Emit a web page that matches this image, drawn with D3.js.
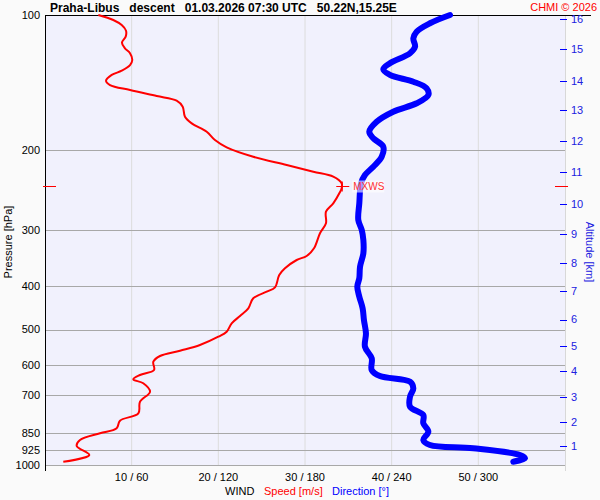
<!DOCTYPE html>
<html>
<head>
<meta charset="utf-8">
<script src="https://cdn.jsdelivr.net/npm/d3@7"></script>
<style>
  body { margin: 0; background: #fafafa; }
  svg { display: block; font-family: "Liberation Sans", Arial, sans-serif; }
</style>
</head>
<body>
<div id="chart"></div>
<script>
// wind speed profile: pressure [hPa] / speed [m/s]
const speedP = [100, 102.6, 105.3, 108.4, 111.7, 115.2, 118.6, 121.6, 125.9, 129.2, 133.0, 135.9, 140.0, 143.1,
  146.8, 151.4, 155.0, 159.9, 168.3, 174.1, 181.7, 189.6, 196.8, 206.5, 215.4, 223.0, 228.7, 236.6, 242.7,
  247.4, 262.1, 273.6, 290.3, 305.5, 329.9, 343.2, 350.3, 365.5, 378.3, 402.9, 412.0, 426.2, 448.6, 466.6,
  484.3, 505.6, 518.7, 541.2, 557.2, 572.5, 589.5, 615.1, 631.0, 645.0, 658.3, 687.2, 723.4, 767.6, 797.2,
  828.8, 850.3, 879.9, 907.4, 950.0, 983.3];
const speedV = [6.15, 7.88, 8.85, 9.35, 9.31, 8.88, 9.23, 9.81, 10.07, 9.81, 8.85, 7.70, 7.04, 7.50,
  9.81, 12.89, 15.19, 15.89, 16.15, 16.93, 18.66, 19.61, 20.96, 24.03, 27.89, 30.96, 33.26, 34.23, 34.23,
  34.04, 33.26, 32.42, 32.42, 31.73, 31.04, 30.19, 29.04, 27.69, 27.03, 26.54, 25.58, 24.03, 23.46, 22.50,
  21.54, 20.96, 20.00, 17.88, 15.58, 13.27, 12.50, 12.58, 10.96, 10.19, 11.34, 12.12, 10.96, 10.77, 8.65,
  8.27, 6.35, 4.04, 3.66, 5.11, 2.11];

// wind direction profile: pressure [hPa] / direction [deg]
const dirP = [100, 104.3, 108.9, 112.7, 117.6, 121.6, 128.0, 132.0, 135.9, 140.7, 145.5, 150.6, 157.1, 164.0,
  172.7, 181.7, 187.9, 196.2, 206.5, 217.3, 226.8, 236.6, 262.1, 285.5, 300.4, 316.2, 338.5, 362.5, 384.7,
  401.6, 422.7, 448.6, 476.2, 509.8, 545.9, 579.3, 615.1, 634.2, 653.0, 675.4, 705.1, 742.1, 774.3, 807.8,
  843.3, 879.9, 902.7, 918.1, 950.0, 966.2, 983.3];
const dirV = [280.4, 266.5, 257.3, 255.0, 256.2, 252.7, 238.8, 234.2, 238.8, 255.0, 264.2, 265.4, 257.3, 241.1,
  229.6, 224.5, 227.3, 234.2, 233.1, 227.3, 221.5, 218.8, 217.6, 216.9, 219.3, 220.4, 220.4, 218.1, 217.6,
  216.2, 217.6, 219.9, 220.8, 222.2, 221.5, 226.2, 226.2, 231.9, 252.7, 255.0, 252.7, 252.7, 261.9, 261.9,
  265.4, 261.9, 266.5, 296.5, 328.8, 332.3, 324.2];

const pressureTicks = [100, 200, 300, 400, 500, 600, 700, 850, 925, 1000];
const speedTicks = [10, 20, 30, 40, 50];
const altKm = [1, 2, 3, 4, 5, 6, 7, 8, 9, 10, 11, 12, 13, 14, 15, 16];
const altP = [907, 803, 706, 618, 544, 475, 410, 356, 307, 263, 223, 191, 163, 140, 119, 102];
const maxWind = { p: 240, speed: 34.3, label: 'MXWS' };

const title = 'Praha-Libus   descent   01.03.2026 07:30 UTC   50.22N,15.25E';
const legendItems = [
  { text: 'WIND', color: '#000', x: 225 },
  { text: 'Speed [m/s]', color: '#ff0000', x: 264 },
  { text: 'Direction [°]', color: '#0000ff', x: 332 }
];

const W = 600, H = 500;
const margin = { top: 15, right: 35, bottom: 35, left: 45 };
const x0 = margin.left, x1 = W - margin.right;
const y0 = margin.top, y1 = H - margin.bottom;

const svg = d3.select('#chart').append('svg')
  .attr('width', W).attr('height', H);

svg.append('rect').attr('width', W).attr('height', H).attr('fill', '#fafafa');

const y = d3.scaleLog().domain([100, 1000]).range([y0, y1]);
const xs = d3.scaleLinear().domain([0, 60]).range([x0, x1]);
const xd = d3.scaleLinear().domain([0, 360]).range([x0, x1]);

// plot area
svg.append('rect')
  .attr('x', x0).attr('y', y0)
  .attr('width', x1 - x0).attr('height', y1 - y0)
  .attr('fill', '#f1f1fd');

// vertical grid
svg.selectAll('.vgrid').data(speedTicks).join('line')
  .attr('x1', d => xs(d)).attr('x2', d => xs(d))
  .attr('y1', y0).attr('y2', y1)
  .attr('stroke', '#dcdcdc').attr('stroke-width', 1);

// horizontal grid
svg.selectAll('.hgrid').data(pressureTicks.slice(1)).join('line')
  .attr('x1', x0).attr('x2', x1)
  .attr('y1', d => Math.round(y(d)) + 0.5).attr('y2', d => Math.round(y(d)) + 0.5)
  .attr('stroke', '#a8a8a8').attr('stroke-width', 1);

// right axis line
svg.append('line')
  .attr('x1', x1 + 0.5).attr('x2', x1 + 0.5)
  .attr('y1', y0).attr('y2', y1 + 6)
  .attr('stroke', '#d8d8d8');

// left axis and top border
svg.append('line')
  .attr('x1', x0 + 0.5).attr('x2', x0 + 0.5)
  .attr('y1', y0).attr('y2', y1 + 6)
  .attr('stroke', '#000');
svg.append('line')
  .attr('x1', x0).attr('x2', 591)
  .attr('y1', y0 + 0.5).attr('y2', y0 + 0.5)
  .attr('stroke', '#000');

// pressure labels
svg.selectAll('.plab').data(pressureTicks).join('text')
  .attr('x', x0 - 5).attr('y', d => y(d))
  .attr('dy', '0.35em')
  .attr('text-anchor', 'end')
  .attr('font-size', '11px').attr('fill', '#000')
  .text(d => d);

svg.append('text')
  .attr('transform', `translate(12,${(y0 + y1) / 2 + 2}) rotate(-90)`)
  .attr('text-anchor', 'middle')
  .attr('font-size', '11px').attr('fill', '#000')
  .text('Pressure [hPa]');

// bottom labels
svg.selectAll('.xlab').data(speedTicks).join('text')
  .attr('x', d => xs(d)).attr('y', 481)
  .attr('text-anchor', 'middle')
  .attr('font-size', '11px').attr('fill', '#000')
  .text(d => `${d} / ${d * 6}`);

svg.selectAll('.leg').data(legendItems).join('text')
  .attr('x', d => d.x).attr('y', 495)
  .attr('font-size', '11px').attr('fill', d => d.color)
  .text(d => d.text);

// altitude axis
svg.selectAll('.atick').data(altP).join('line')
  .attr('x1', x1 - 5).attr('x2', x1 + 2)
  .attr('y1', d => Math.round(y(d)) + 0.5).attr('y2', d => Math.round(y(d)) + 0.5)
  .attr('stroke', '#0000ff');
svg.selectAll('.alab').data(altKm).join('text')
  .attr('x', x1 + 6).attr('y', (d, i) => y(altP[i]))
  .attr('dy', '0.35em')
  .attr('font-size', '11px').attr('fill', '#2020e0')
  .text(d => d);
svg.append('text')
  .attr('transform', `translate(586,${(y0 + y1) / 2 + 12}) rotate(90)`)
  .attr('text-anchor', 'middle')
  .attr('font-size', '11px').attr('fill', '#2020e0')
  .text('Altitude [km]');

// direction curve
const dirLine = d3.line()
  .x(d => xd(d[1])).y(d => y(d[0]))
  .curve(d3.curveCatmullRom);
svg.append('path')
  .datum(dirP.map((p, i) => [p, dirV[i]]))
  .attr('d', dirLine)
  .attr('fill', 'none').attr('stroke', '#0000ff')
  .attr('stroke-width', 6).attr('stroke-linecap', 'round').attr('stroke-linejoin', 'round');

// speed curve
const spdLine = d3.line()
  .x(d => xs(d[1])).y(d => y(d[0]))
  .curve(d3.curveCatmullRom);
svg.append('path')
  .datum(speedP.map((p, i) => [p, speedV[i]]))
  .attr('d', spdLine)
  .attr('fill', 'none').attr('stroke', '#ff0000')
  .attr('stroke-width', 2).attr('stroke-linejoin', 'round');

// max wind marker
const my = Math.round(y(maxWind.p)) + 0.5;
const mx = xs(maxWind.speed);
[[x0 - 2, x0 + 11], [x1 - 10, x1 + 3], [mx - 6, mx + 7]].forEach(([a, b]) => {
  svg.append('line').attr('x1', a).attr('x2', b).attr('y1', my).attr('y2', my)
    .attr('stroke', '#ff0000');
});
svg.append('line').attr('x1', mx).attr('x2', mx).attr('y1', my - 5).attr('y2', my + 5)
  .attr('stroke', '#ff0000');
svg.append('rect')
  .attr('x', mx + 10).attr('y', my - 6).attr('width', 32).attr('height', 12)
  .attr('fill', '#ffffff').attr('opacity', 0.6);
svg.append('text')
  .attr('x', mx + 11).attr('y', my).attr('dy', '0.35em')
  .attr('font-size', '10px').attr('fill', '#ff3030')
  .text(maxWind.label);

// title
svg.append('text')
  .attr('x', 50).attr('y', 12)
  .attr('font-size', '12px').attr('font-weight', 'bold').attr('fill', '#000')
  .attr('xml:space', 'preserve').style('white-space', 'pre')
  .text(title);
svg.append('text')
  .attr('x', 597).attr('y', 11)
  .attr('text-anchor', 'end')
  .attr('font-size', '11px').attr('fill', '#ff0000')
  .text('CHMI © 2026');
</script>
</body>
</html>
